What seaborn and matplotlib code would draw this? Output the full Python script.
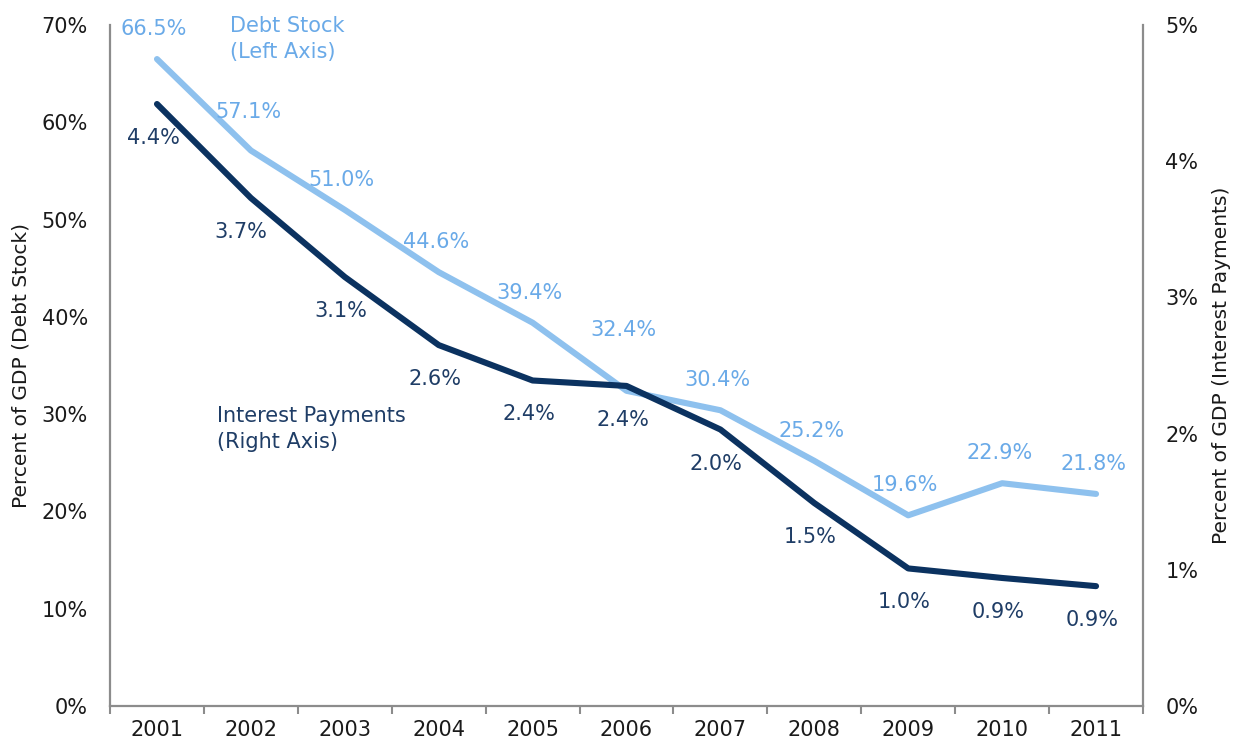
import matplotlib
matplotlib.use("Agg")
import matplotlib.pyplot as plt
import seaborn as sns
import numpy as np
import pandas as pd
from matplotlib.ticker import FixedLocator, PercentFormatter

years = ["2001", "2002", "2003", "2004", "2005", "2006", "2007", "2008", "2009", "2010", "2011"]
debt_stock = [66.5, 57.1, 51.0, 44.6, 39.4, 32.4, 30.4, 25.2, 19.6, 22.9, 21.8]
interest = [4.42, 3.73, 3.15, 2.65, 2.39, 2.35, 2.03, 1.49, 1.01, 0.94, 0.88]
debt_labels = ["66.5%", "57.1%", "51.0%", "44.6%", "39.4%", "32.4%", "30.4%", "25.2%", "19.6%", "22.9%", "21.8%"]
interest_labels = ["4.4%", "3.7%", "3.1%", "2.6%", "2.4%", "2.4%", "2.0%", "1.5%", "1.0%", "0.9%", "0.9%"]

sns.set_theme(style="white")
plt.rcParams['font.family'] = ['DejaVu Sans']

LIGHT = "#8EC1EE"
LIGHT_TXT = "#6AAAE8"
DARK = "#0B3260"
DARK_TXT = "#1F3D66"
GREY = "#8C8C8C"
FS = 15

df = pd.DataFrame({"pos": np.arange(len(years)), "debt": debt_stock, "interest": interest})

fig = plt.figure(figsize=(12.35, 7.47), dpi=100)
ax = fig.add_axes([0.0891, 0.0549, 0.8364, 0.9116])
ax2 = ax.twinx()

sns.lineplot(data=df, x="pos", y="debt", ax=ax, color=LIGHT, linewidth=4.4, zorder=2)
sns.lineplot(data=df, x="pos", y="interest", ax=ax2, color=DARK, linewidth=4.4, zorder=3)

ax.set_xlim(-0.5, len(years) - 0.5)
ax.set_ylim(0, 70)
ax2.set_ylim(0, 5)
ax.yaxis.set_major_locator(FixedLocator(np.arange(0, 71, 10)))
ax2.yaxis.set_major_locator(FixedLocator(np.arange(0, 6, 1)))
ax.yaxis.set_major_formatter(PercentFormatter(decimals=0))
ax2.yaxis.set_major_formatter(PercentFormatter(decimals=0))

ax.set_xticks(np.arange(len(years)))
ax.set_xticklabels(years)
ax.set_xticks(np.arange(-0.5, len(years)), minor=True)
ax.tick_params(axis="x", which="major", length=0, pad=10, labelsize=FS, colors="#1a1a1a")
ax.tick_params(axis="x", which="minor", length=6, width=1.5, color=GREY, direction="out", bottom=True)
ax.tick_params(axis="y", length=0, pad=16, labelsize=FS, labelcolor="#1a1a1a")
ax2.tick_params(axis="y", length=0, pad=16, labelsize=FS, labelcolor="#1a1a1a")

for a in (ax, ax2):
    a.set_xlabel("")
    a.grid(False)
    for s in ("left", "right", "bottom"):
        a.spines[s].set_color(GREY)
        a.spines[s].set_linewidth(1.6)
    a.spines["top"].set_visible(False)
ax.spines["right"].set_visible(False)
ax2.spines["left"].set_visible(False)
ax2.spines["bottom"].set_visible(False)

ax.set_ylabel("Percent of GDP (Debt Stock)", fontsize=14.5, color="#1a1a1a", labelpad=8)
ax2.set_ylabel("Percent of GDP (Interest Payments)", fontsize=14.5, color="#1a1a1a", labelpad=10)

debt_off = {1: (-2, 39), 5: (-3, 61)}
int_off = {1: (-10, -34)}
for i in range(len(years)):
    dx, dy = debt_off.get(i, (-3, 30))
    ax.annotate(debt_labels[i], (i, debt_stock[i]), xytext=(dx, dy), textcoords="offset pixels",
                ha="center", va="center", fontsize=FS, color=LIGHT_TXT)
    dx, dy = int_off.get(i, (-4, -34))
    ax2.annotate(interest_labels[i], (i, interest[i]), xytext=(dx, dy), textcoords="offset pixels",
                 ha="center", va="center", fontsize=FS, color=DARK_TXT)

fig.text(230 / 1235, 1 - 39 / 747, "Debt Stock\n(Left Axis)", fontsize=FS, color=LIGHT_TXT,
         ha="left", va="center", linespacing=1.4)
fig.text(217 / 1235, 1 - 429 / 747, "Interest Payments\n(Right Axis)", fontsize=FS, color=DARK_TXT,
         ha="left", va="center", linespacing=1.4)

fig.savefig("out.png", dpi=100)
